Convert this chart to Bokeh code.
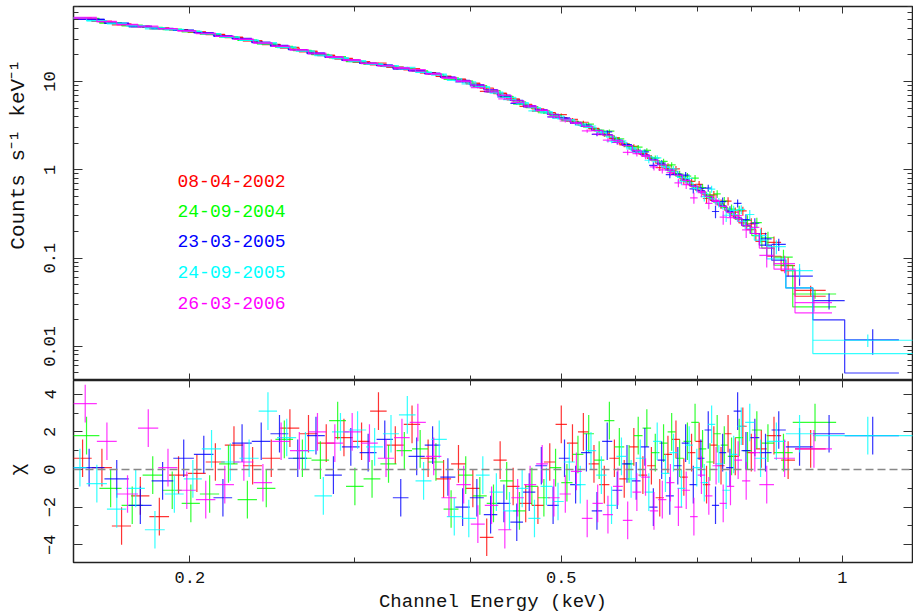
import numpy as np
from bokeh.plotting import figure
from bokeh.models import (Range1d, LogAxis, LinearAxis, FixedTicker,
                          CustomJSTickFormatter, Span)
from bokeh.layouts import column, row
from bokeh.embed import file_html
from bokeh.resources import INLINE
from bokeh.core.properties import value

# ---------------- data ----------------
legend_labels = ["08-04-2002", "24-09-2004", "23-03-2005", "24-09-2005", "26-03-2006"]
colors = ["#ff0000", "#00ff00", "#0000ff", "#00ffff", "#ff00ff"]
y_title_top = "Counts s\u207b\u00b9 keV\u207b\u00b9"
y_title_bottom = "\u03c7"
x_title = "Channel Energy (keV)"

red_edges = [0.150, 0.157, 0.165, 0.173, 0.181, 0.190, 0.199, 0.208, 0.218, 0.228,
             0.239, 0.250, 0.262, 0.274, 0.286, 0.299, 0.312, 0.325, 0.339, 0.353,
             0.367, 0.381, 0.395, 0.409, 0.423, 0.437, 0.451, 0.465, 0.479, 0.493,
             0.507, 0.521, 0.535, 0.549, 0.563, 0.577, 0.591, 0.605, 0.618, 0.631,
             0.644, 0.657, 0.670, 0.683, 0.696, 0.709, 0.722, 0.735, 0.748, 0.761,
             0.775, 0.790, 0.808, 0.830, 0.860, 0.890, 0.960]
red_model = [52.0, 48.1, 45.1, 42.4, 40.4, 38.6, 36.4, 34.0, 31.4, 28.9,
             26.2, 23.8, 21.6, 19.6, 17.9, 16.5, 15.4, 14.4, 13.5, 12.5,
             11.5, 10.6, 9.6, 8.4, 7.3, 6.35, 5.5, 4.9, 4.4, 3.9,
             3.55, 3.2, 2.9, 2.6, 2.25, 1.97, 1.72, 1.53, 1.35, 1.19,
             1.04, 0.90, 0.79, 0.68, 0.59, 0.52, 0.45, 0.40, 0.35, 0.30,
             0.25, 0.21, 0.155, 0.105, 0.072, 0.037]
red_chi = [0.6, 0.1, -3.0, -1.4, -2.5, -0.3,
           -0.2, 0.4, 1.3, 0.2, 0.6, 2.2,
           1.9, 1.4, 1.7, 1.5, 3.1, 1.3, 2.4, 0.6,
           -0.5, 0.3, -1.0, -3.6, 0.5, -0.9, -1.8, -1.9, 0.4, 2.4,
           1.4, 2.0, 0.3, -0.8, 0.6, -0.5, 1.2, -0.3, 0.2, -1.5,
           0.8, 1.6, -0.4, 0.9, 1.5, -0.8, 1.3, 0.2, 1.9, 0.7,
           2.3, 0.9, 1.1, 1.8, 0.5, 1.1]
red_err = [0.010, 0.010, 0.010, 0.010, 0.010, 0.010, 0.010, 0.010, 0.010, 0.010,
           0.011, 0.011, 0.012, 0.012, 0.013, 0.014, 0.015, 0.015, 0.016, 0.017,
           0.018, 0.019, 0.020, 0.022, 0.024, 0.026, 0.028, 0.030, 0.032, 0.034,
           0.037, 0.040, 0.044, 0.048, 0.052, 0.056, 0.060, 0.065, 0.070, 0.075,
           0.080, 0.086, 0.092, 0.098, 0.105, 0.112, 0.120, 0.128, 0.137, 0.147,
           0.16, 0.18, 0.20, 0.24, 0.28, 0.15]

green_edges = [0.150, 0.160, 0.169, 0.178, 0.187, 0.196, 0.205, 0.215, 0.225, 0.236,
               0.247, 0.258, 0.270, 0.282, 0.294, 0.307, 0.320, 0.333, 0.346, 0.360,
               0.374, 0.388, 0.402, 0.416, 0.430, 0.444, 0.458, 0.472, 0.486, 0.500,
               0.514, 0.528, 0.542, 0.556, 0.570, 0.584, 0.598, 0.611, 0.624, 0.637,
               0.650, 0.663, 0.676, 0.689, 0.702, 0.715, 0.728, 0.741, 0.754, 0.768,
               0.783, 0.800, 0.820, 0.845, 0.885, 0.985]
green_model = [51.0, 46.4, 43.5, 41.0, 39.2, 37.2, 34.8, 32.1, 29.6, 26.9,
               24.5, 22.4, 20.2, 18.5, 17.0, 15.8, 14.9, 13.9, 13.0, 12.0,
               11.0, 10.1, 9.0, 7.9, 6.8, 5.9, 5.2, 4.65, 4.15, 3.7,
               3.35, 3.05, 2.75, 2.42, 2.1, 1.85, 1.62, 1.44, 1.27, 1.12,
               0.97, 0.85, 0.74, 0.64, 0.56, 0.49, 0.43, 0.375, 0.325, 0.275,
               0.228, 0.18, 0.13, 0.083, 0.028]
green_chi = [1.8, -1.0, -1.9, -0.3, -1.1, -1.8, -1.3, 0.3, -1.6, -1.0, 1.6, 0.6,
             0.5, 2.6, -0.9, -0.5, 0.3, 1.0, 1.1, 0.4,
             -2.1, -0.3, -1.4, -1.8, -0.6, -2.2, -0.9, -1.5, 0.1, -0.7,
             0.8, 1.9, 0.5, 2.6, 1.2, 0.3, 1.8, 2.2, 0.9, 1.4,
             2.0, 0.6, 1.5, 2.5, 1.1, 0.4, 1.9, 1.3, 0.7, 1.7,
             1.0, 2.1, 1.4, 0.9, 2.5]
green_err = [0.010, 0.010, 0.010, 0.010, 0.010, 0.010, 0.010, 0.010, 0.010, 0.011,
             0.011, 0.012, 0.012, 0.013, 0.014, 0.014, 0.015, 0.016, 0.017, 0.018,
             0.019, 0.020, 0.022, 0.024, 0.026, 0.028, 0.030, 0.032, 0.034, 0.037,
             0.040, 0.043, 0.047, 0.051, 0.055, 0.060, 0.064, 0.069, 0.074, 0.079,
             0.085, 0.091, 0.097, 0.104, 0.111, 0.119, 0.127, 0.136, 0.146, 0.158,
             0.17, 0.19, 0.22, 0.26, 0.16]

blue_edges = [0.150, 0.162, 0.172, 0.182, 0.192, 0.202, 0.212, 0.222, 0.233, 0.244,
              0.255, 0.267, 0.279, 0.291, 0.304, 0.317, 0.330, 0.343, 0.357, 0.371,
              0.385, 0.399, 0.413, 0.427, 0.441, 0.455, 0.469, 0.483, 0.497, 0.511,
              0.525, 0.539, 0.553, 0.567, 0.581, 0.595, 0.608, 0.621, 0.634, 0.647,
              0.660, 0.673, 0.686, 0.699, 0.712, 0.725, 0.738, 0.751, 0.765, 0.780,
              0.797, 0.815, 0.840, 0.870, 0.930, 1.006, 1.150]
blue_model = [50.5, 45.9, 42.4, 40.0, 37.9, 35.6, 33.0, 30.3, 27.6, 25.1,
              22.9, 20.7, 18.9, 17.3, 16.0, 15.1, 14.1, 13.2, 12.2, 11.2,
              10.3, 9.2, 8.1, 7.0, 6.1, 5.35, 4.75, 4.25, 3.8, 3.45,
              3.1, 2.8, 2.5, 2.17, 1.9, 1.66, 1.48, 1.31, 1.15, 1.0,
              0.88, 0.77, 0.66, 0.58, 0.50, 0.44, 0.39, 0.335, 0.285, 0.235,
              0.19, 0.14, 0.095, 0.046, 0.020, 0.005]
blue_chi = [0.1, -0.5, -1.9, -0.6, 0.6, 0.8, -1.5, 1.4, 1.5, 1.9, 0.6, 1.8,
            -0.3, 1.2, 0.9, 1.6, -1.5, 0.7, 1.3, -0.4,
            -2.0, -1.5, -2.4, -1.8, -2.8, -1.2, 0.2, -1.9, 0.6, -0.8,
            0.9, -2.2, 1.5, -1.1, 0.3, -0.6, 1.2, -2.0, 0.5, -1.4,
            0.2, 1.4, -0.8, 0.6, 2.1, -1.9, 0.9, 0.1, 3.1, 1.0,
            1.7, 0.9, 2.1, 1.2, 1.9, 1.8]
blue_err = [0.010, 0.010, 0.010, 0.010, 0.010, 0.010, 0.010, 0.010, 0.010, 0.011,
            0.011, 0.012, 0.012, 0.013, 0.014, 0.015, 0.015, 0.016, 0.017, 0.018,
            0.019, 0.021, 0.023, 0.025, 0.027, 0.029, 0.031, 0.033, 0.035, 0.038,
            0.041, 0.045, 0.049, 0.053, 0.057, 0.062, 0.067, 0.072, 0.077, 0.083,
            0.089, 0.095, 0.101, 0.108, 0.115, 0.123, 0.131, 0.140, 0.150, 0.162,
            0.18, 0.20, 0.24, 0.30, 0.34, 0.76]

cyan_edges = [0.150, 0.155, 0.163, 0.171, 0.179, 0.188, 0.197, 0.206, 0.216, 0.226,
              0.237, 0.248, 0.260, 0.272, 0.284, 0.296, 0.309, 0.322, 0.335, 0.349,
              0.363, 0.377, 0.391, 0.405, 0.419, 0.433, 0.447, 0.461, 0.475, 0.489,
              0.503, 0.517, 0.531, 0.545, 0.559, 0.573, 0.587, 0.601, 0.614, 0.627,
              0.640, 0.653, 0.666, 0.679, 0.692, 0.705, 0.718, 0.731, 0.744, 0.758,
              0.772, 0.787, 0.805, 0.830, 0.870, 0.930, 1.200]
cyan_model = [52.5, 49.0, 45.8, 43.0, 40.8, 39.0, 37.0, 34.5, 31.8, 29.3,
              26.7, 24.2, 22.0, 19.9, 18.2, 16.8, 15.6, 14.7, 13.8, 12.8,
              11.8, 10.8, 9.9, 8.7, 7.6, 6.6, 5.75, 5.05, 4.55, 4.05,
              3.65, 3.3, 3.0, 2.68, 2.35, 2.05, 1.78, 1.58, 1.40, 1.23,
              1.08, 0.95, 0.82, 0.71, 0.61, 0.54, 0.47, 0.41, 0.36, 0.31,
              0.26, 0.215, 0.16, 0.098, 0.046, 0.0083]
cyan_chi = [0.1, -0.75, -2.1, -1.0, -3.2, -1.3, -0.5, 1.1, 0.4, 0.6, 3.1, 1.7, 1.0,
            -1.4, 2.0, 2.1, 1.2, 1.9, 2.9, -0.6, 1.6, -2.5,
            -2.6, -0.3, -1.2, -2.2, -1.0, -2.6, -0.9, -1.7, 0.4,
            -0.8, 1.0, -0.3, -1.9, 0.7, -0.5, 0.6, -1.2, 1.5, -0.2,
            0.9, -1.0, 1.3, 0.1, -0.7, 2.4, 0.3, -1.1, 0.8, 2.3,
            2.5, 0.6, 1.5, 1.9, 1.8]
cyan_err = [0.010, 0.010, 0.010, 0.010, 0.010, 0.010, 0.010, 0.010, 0.010, 0.010,
            0.011, 0.011, 0.012, 0.012, 0.013, 0.014, 0.015, 0.015, 0.016, 0.017,
            0.018, 0.019, 0.020, 0.022, 0.024, 0.026, 0.028, 0.030, 0.032, 0.034,
            0.037, 0.040, 0.044, 0.048, 0.052, 0.056, 0.060, 0.065, 0.070, 0.075,
            0.080, 0.086, 0.092, 0.098, 0.105, 0.112, 0.120, 0.128, 0.137, 0.147,
            0.16, 0.18, 0.21, 0.25, 0.30, 0.23]

magenta_edges = [0.150, 0.159, 0.167, 0.176, 0.185, 0.194, 0.203, 0.213, 0.223, 0.234,
                 0.245, 0.256, 0.268, 0.280, 0.292, 0.305, 0.318, 0.331, 0.344, 0.358,
                 0.372, 0.386, 0.400, 0.414, 0.428, 0.442, 0.456, 0.470, 0.484, 0.498,
                 0.512, 0.526, 0.540, 0.554, 0.568, 0.582, 0.596, 0.609, 0.622, 0.635,
                 0.648, 0.661, 0.674, 0.687, 0.700, 0.713, 0.726, 0.739, 0.752, 0.766,
                 0.781, 0.797, 0.815, 0.845, 0.890, 0.975]
magenta_model = [51.5, 47.3, 44.3, 41.4, 39.6, 37.6, 35.3, 32.6, 30.0, 27.4,
                 24.9, 22.7, 20.5, 18.8, 17.2, 15.9, 15.0, 14.0, 13.1, 12.1,
                 11.15, 10.2, 9.1, 8.0, 6.95, 6.05, 5.3, 4.7, 4.2, 3.75,
                 3.4, 3.1, 2.78, 2.47, 2.15, 1.88, 1.65, 1.46, 1.29, 1.14,
                 0.99, 0.87, 0.76, 0.65, 0.57, 0.50, 0.44, 0.385, 0.33, 0.28,
                 0.232, 0.19, 0.13, 0.075, 0.024]
magenta_chi = [3.5, 1.5, -1.3, 2.2, 0.1, -1.1, -1.6, -0.8, 0.4, -0.7, 1.5, 1.0, 2.0,
               1.4, 2.0, 1.4, 0.6, 1.7, 2.5, 0.7, -1.5, -0.8,
               -2.9, -1.9, -3.2, -1.5, -0.8, 0.3, -1.5, -1.3, -0.1, -2.6,
               -1.8, -2.4, -0.9, -2.7, -1.2, -0.4, -2.2, -1.6, -0.7, -2.0,
               -1.1, -2.5, -0.3, -1.4, 0.2, -1.8, -0.9, 0.5, -0.6, 0.9,
               -0.8, 0.6, 1.1]
magenta_err = [0.010, 0.010, 0.010, 0.010, 0.010, 0.010, 0.010, 0.010, 0.010, 0.011,
               0.011, 0.012, 0.012, 0.013, 0.014, 0.014, 0.015, 0.016, 0.017, 0.018,
               0.019, 0.020, 0.022, 0.024, 0.026, 0.028, 0.030, 0.032, 0.034, 0.037,
               0.040, 0.043, 0.047, 0.051, 0.055, 0.060, 0.064, 0.069, 0.074, 0.079,
               0.085, 0.091, 0.097, 0.104, 0.111, 0.119, 0.127, 0.136, 0.146, 0.158,
               0.17, 0.19, 0.22, 0.26, 0.28]

# tick values
x_major = [0.2, 0.5, 1.0]
x_minor = [0.3, 0.4, 0.6, 0.7, 0.8, 0.9]
y1_major = [0.01, 0.1, 1.0, 10.0]
y1_minor = [0.005, 0.006, 0.007, 0.008, 0.009,
            0.02, 0.03, 0.04, 0.05, 0.06, 0.07, 0.08, 0.09,
            0.2, 0.3, 0.4, 0.5, 0.6, 0.7, 0.8, 0.9,
            2, 3, 4, 5, 6, 7, 8, 9, 20, 30, 40, 50, 60, 70]
y2_major = [-4, -2, 0, 2, 4]
y2_minor = [-3, -1, 1, 3]

# ---------------- styling ----------------
FONT = "Liberation Mono"
TICK_COLOR = "#333333"
TEXT_COLOR = "#111111"
TITLE_W = 30          # width of the strip that carries the rotated y titles
LEFT = 73 - TITLE_W   # border between strip and plot frame

fmt_plain = CustomJSTickFormatter(code="return tick.toString();")
fmt_minus = CustomJSTickFormatter(
    code="return (tick < 0 ? '\u2212' : '') + Math.abs(tick).toString();")


def make_axis(cls, major, minor, labelled, formatter=None, tick_len=8, minor_len=5,
              vertical=False):
    ax = cls(ticker=FixedTicker(ticks=major, minor_ticks=minor))
    ax.axis_line_color = None
    ax.major_tick_in = tick_len
    ax.major_tick_out = 0
    ax.minor_tick_in = minor_len
    ax.minor_tick_out = 0
    ax.major_tick_line_color = TICK_COLOR
    ax.minor_tick_line_color = TICK_COLOR
    ax.major_tick_line_width = 1
    ax.minor_tick_line_width = 1
    if labelled:
        ax.formatter = formatter
        ax.major_label_text_font = FONT
        ax.major_label_text_font_size = "17px"
        ax.major_label_text_color = TEXT_COLOR
        if vertical:
            ax.major_label_orientation = "vertical"
    else:
        ax.formatter = CustomJSTickFormatter(code="return '';")
        ax.major_label_text_font_size = "0px"
        ax.major_label_standoff = 0
    return ax


def title_strip(height, text, y_from_top, size):
    """narrow figure holding a rotated y-axis title"""
    f = figure(width=TITLE_W, height=height, x_range=Range1d(0, TITLE_W),
               y_range=Range1d(0, height), x_axis_location=None, y_axis_location=None,
               output_backend="svg", toolbar_location=None,
               min_border_left=0, min_border_right=0, min_border_top=0,
               min_border_bottom=0)
    f.grid.visible = False
    f.outline_line_color = None
    f.background_fill_color = "white"
    f.border_fill_color = "white"
    f.text(x=[18], y=[height - y_from_top], text=[text], angle=np.pi / 2,
           text_font=value(FONT), text_font_size=value(size), text_color=TEXT_COLOR,
           text_align="center", text_baseline="middle")
    return f


x_range = Range1d(0.1501, 1.1892)

p1 = figure(width=913 - TITLE_W, height=380, x_axis_type="log", y_axis_type="log",
            x_range=x_range, y_range=Range1d(0.00411, 70.7),
            x_axis_location=None, y_axis_location=None,
            output_backend="svg", toolbar_location=None,
            min_border_left=LEFT, min_border_right=1, min_border_top=6,
            min_border_bottom=0)
p2 = figure(width=913 - TITLE_W, height=235, x_axis_type="log",
            x_range=x_range, y_range=Range1d(-4.94, 4.73),
            x_axis_location=None, y_axis_location=None,
            output_backend="svg", toolbar_location=None,
            min_border_left=LEFT, min_border_right=1, min_border_top=0,
            min_border_bottom=53)

for p in (p1, p2):
    p.grid.visible = False
    p.outline_line_color = "#222222"
    p.outline_line_width = 1.5
    p.background_fill_color = "white"
    p.border_fill_color = "white"

# upper panel axes
ly1 = make_axis(LogAxis, y1_major, y1_minor, True, fmt_plain, 9, 5, vertical=True)
ly1.major_label_standoff = 18
p1.add_layout(ly1, "left")
p1.add_layout(make_axis(LogAxis, y1_major, y1_minor, False, tick_len=9), "right")
p1.add_layout(make_axis(LogAxis, x_major, x_minor, False, tick_len=7, minor_len=5), "above")
p1.add_layout(make_axis(LogAxis, x_major, x_minor, False, tick_len=7, minor_len=5), "below")

# lower panel axes
ly2 = make_axis(LinearAxis, y2_major, y2_minor, True, fmt_minus, 9, 5, vertical=True)
ly2.major_label_standoff = 18
p2.add_layout(ly2, "left")
p2.add_layout(make_axis(LinearAxis, y2_major, y2_minor, False, tick_len=9), "right")
p2.add_layout(make_axis(LogAxis, x_major, x_minor, False, tick_len=7, minor_len=5), "above")
bx = make_axis(LogAxis, x_major, x_minor, True, fmt_plain, 7, 5)
bx.major_label_standoff = 9
bx.axis_label = x_title
bx.axis_label_text_font = FONT
bx.axis_label_text_font_size = "19px"
bx.axis_label_text_font_style = "normal"
bx.axis_label_text_color = TEXT_COLOR
bx.axis_label_standoff = 5
p2.add_layout(bx, "below")

# ---------------- data glyphs ----------------
datasets = [
    (red_edges, red_model, red_chi, red_err),
    (green_edges, green_model, green_chi, green_err),
    (blue_edges, blue_model, blue_chi, blue_err),
    (cyan_edges, cyan_model, cyan_chi, cyan_err),
    (magenta_edges, magenta_model, magenta_chi, magenta_err),
]

LW = 1.2
AL = 0.8
for (edges, model, chi, err), col in zip(datasets, colors):
    n = min(len(edges) - 1, len(model), len(chi), len(err))
    e = np.array(edges[:n + 1], dtype=float)
    m = np.array(model[:n], dtype=float)
    c = np.array(chi[:n], dtype=float)
    r = np.array(err[:n], dtype=float)
    lo, hi = e[:-1], e[1:]
    ctr = 0.5 * (lo + hi)
    sig = r * m
    dat = m + c * sig
    # model histogram
    p1.step(x=e, y=np.append(m, m[-1]), mode="after", line_color=col,
            line_width=LW, line_alpha=AL)
    # data crosses
    p1.segment(x0=lo, x1=hi, y0=dat, y1=dat, line_color=col, line_width=LW, line_alpha=AL)
    p1.segment(x0=ctr, x1=ctr, y0=np.maximum(dat - sig, 1e-4), y1=dat + sig,
               line_color=col, line_width=LW, line_alpha=AL)
    # residuals
    p2.segment(x0=lo, x1=hi, y0=c, y1=c, line_color=col, line_width=LW, line_alpha=AL)
    p2.segment(x0=ctr, x1=ctr, y0=c - 1, y1=c + 1, line_color=col, line_width=LW,
               line_alpha=AL)

p2.add_layout(Span(location=0, dimension="width", line_color="#888888",
                   line_dash="8 4", line_width=1.5))

# legend (dates)
legend_x = [0.194] * 5
legend_y = [0.7563, 0.3372, 0.1542, 0.0687, 0.0314]
p1.text(x=legend_x, y=legend_y, text=legend_labels, text_color=colors,
        text_font=value(FONT), text_font_size=value("18px"),
        text_baseline="middle", text_align="left")

t1 = title_strip(380, y_title_top, 154, "21px")
t2 = title_strip(235, y_title_bottom, 89, "20px")

layout = row(column(t1, t2), column(p1, p2))
open("out.html", "w").write(file_html(layout, INLINE))
